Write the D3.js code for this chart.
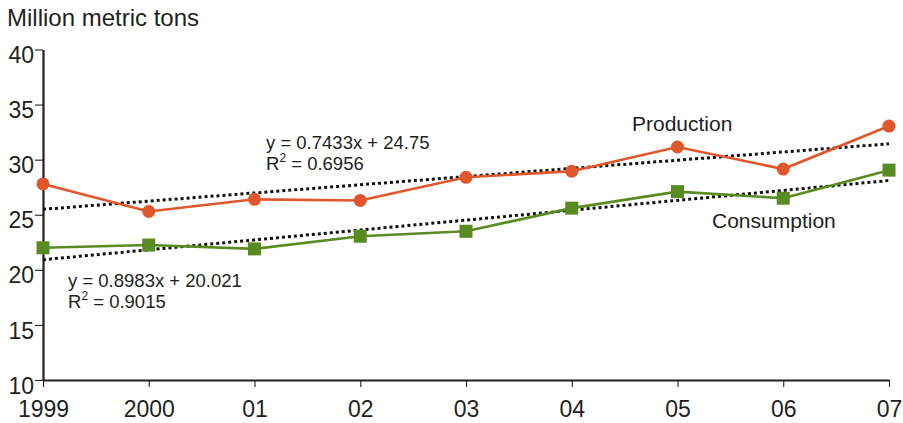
<!DOCTYPE html>
<html>
<head>
<meta charset="utf-8">
<script src="https://cdn.jsdelivr.net/npm/d3@7"></script>
<style>
  html, body { margin: 0; padding: 0; background: #fff; }
  svg { display: block; font-family: "Liberation Sans", Arial, Helvetica, sans-serif; }
</style>
</head>
<body>
<svg id="chart" width="903" height="423"></svg>
<script>
// ---- data ----
const years = ["1999", "2000", "01", "02", "03", "04", "05", "06", "07"];
const production = [27.8, 25.3, 26.4, 26.3, 28.4, 28.95, 31.15, 29.15, 33.05];
const consumption = [22.0, 22.25, 21.9, 23.05, 23.5, 25.6, 27.1, 26.5, 29.05];
const yTicks = [10, 15, 20, 25, 30, 35, 40];
const prodTrend = { slope: 0.7433, intercept: 24.75 };
const consTrend = { slope: 0.8983, intercept: 20.021 };
const prodEq = ["y = 0.7433x + 24.75", "0.6956"];
const consEq = ["y = 0.8983x + 20.021", "0.9015"];
const seriesNames = ["Production", "Consumption"];
const yTitle = "Million metric tons";

// ---- layout ----
const svg = d3.select("#chart");
const mLeft = 43, mRight = 889, mTop = 49.5, mBottom = 380;
const orange = "#e0572b", green = "#5a8a22", ink = "#231f20";

const x = d3.scalePoint().domain(years).range([mLeft, mRight]).padding(0);
const y = d3.scaleLinear().domain([10, 40]).range([mBottom, mTop]);

// title
svg.append("text").attr("x", 7).attr("y", 26)
  .attr("font-size", 24).attr("fill", ink).text(yTitle);

// y axis
const yAxis = svg.append("g").attr("transform", `translate(${mLeft},0)`)
  .call(d3.axisLeft(y).tickValues(yTicks).tickSize(8).tickSizeOuter(0).tickPadding(1));
yAxis.select(".domain").attr("stroke", ink).attr("stroke-width", 2.2);
yAxis.selectAll(".tick line").attr("stroke", ink).attr("stroke-width", 1.1);
yAxis.selectAll(".tick text").attr("font-size", 23).attr("fill", ink)
  .attr("font-family", "Liberation Sans, Arial, sans-serif").attr("dy", "0.57em");

// x axis
const xAxis = svg.append("g").attr("transform", `translate(0,${mBottom})`)
  .call(d3.axisBottom(x).tickSize(7).tickSizeOuter(0).tickPadding(6));
xAxis.select(".domain").attr("stroke", ink).attr("stroke-width", 2.2);
xAxis.selectAll(".tick line").attr("stroke", ink).attr("stroke-width", 1.1);
xAxis.selectAll(".tick text").attr("font-size", 23).attr("fill", ink)
  .attr("font-family", "Liberation Sans, Arial, sans-serif").attr("dy", "1.06em");

// trendlines
function trend(t) {
  const n = years.length;
  return [[years[0], t.intercept + t.slope * 1], [years[n - 1], t.intercept + t.slope * n]];
}
const lineT = d3.line().x(d => x(d[0])).y(d => y(d[1]));
[prodTrend, consTrend].forEach(t => {
  svg.append("path").attr("d", lineT(trend(t)))
    .attr("fill", "none").attr("stroke", "#111").attr("stroke-width", 3)
    .attr("stroke-dasharray", "3,3");
});

// series lines
const line = d3.line().x((d, i) => x(years[i])).y(d => y(d));
svg.append("path").attr("d", line(production)).attr("fill", "none")
  .attr("stroke", orange).attr("stroke-width", 2.6);
svg.append("path").attr("d", line(consumption)).attr("fill", "none")
  .attr("stroke", green).attr("stroke-width", 2.6);

// markers
svg.selectAll("circle.p").data(production).enter().append("circle")
  .attr("cx", (d, i) => x(years[i])).attr("cy", d => y(d)).attr("r", 6.5)
  .attr("fill", orange);
const sq = 13;
svg.selectAll("rect.c").data(consumption).enter().append("rect")
  .attr("x", (d, i) => x(years[i]) - sq / 2).attr("y", d => y(d) - sq / 2)
  .attr("width", sq).attr("height", sq).attr("fill", green);

// annotations
function eq(xp, yp, lines) {
  const g = svg.append("g").attr("font-size", 18.5).attr("fill", ink);
  g.append("text").attr("x", xp).attr("y", yp).text(lines[0]);
  const t = g.append("text").attr("x", xp).attr("y", yp + 20.5);
  t.append("tspan").text("R");
  t.append("tspan").attr("font-size", 12).attr("dy", -7.5).text("2");
  t.append("tspan").attr("dy", 7.5).text(" = " + lines[1]);
}
eq(266, 149, prodEq);
eq(68, 287, consEq);

svg.append("text").attr("x", 632).attr("y", 131).attr("font-size", 21)
  .attr("fill", ink).text(seriesNames[0]);
svg.append("text").attr("x", 712).attr("y", 228).attr("font-size", 21)
  .attr("fill", ink).text(seriesNames[1]);
</script>
</body>
</html>
